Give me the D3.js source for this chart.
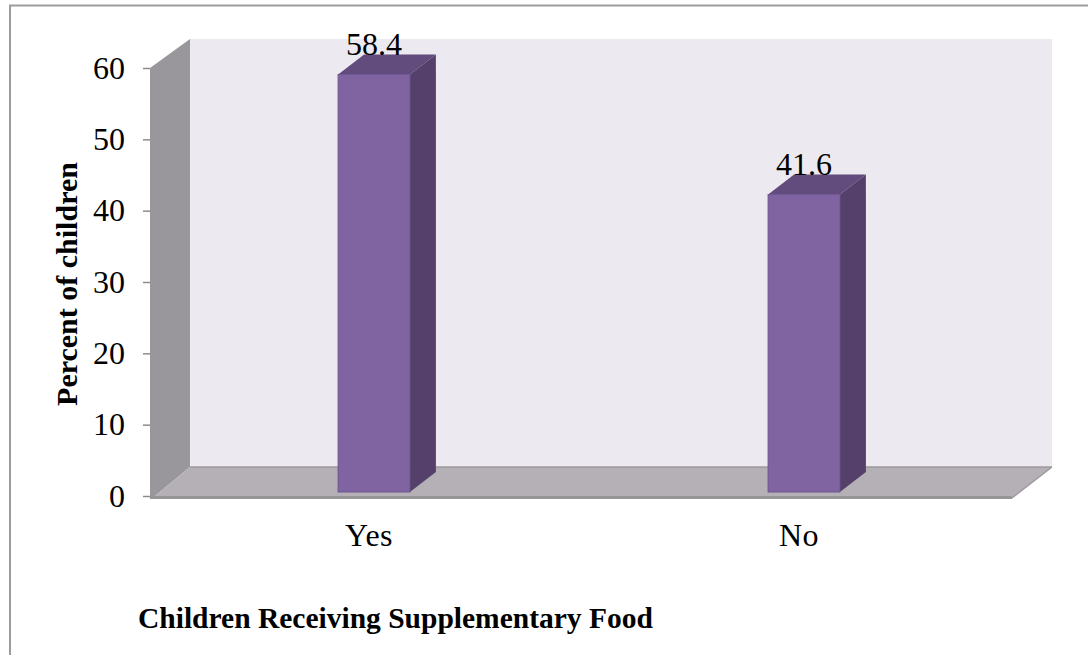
<!DOCTYPE html>
<html>
<head>
<meta charset="utf-8">
<script src="https://cdn.jsdelivr.net/npm/d3@7"></script>
<style>
  html, body { margin: 0; padding: 0; background: #fff; }
  svg { display: block; }
  text { font-family: "Liberation Serif", serif; fill: #000; }
</style>
</head>
<body>
<svg id="chart" width="1088" height="655"></svg>
<script>
const categories = ["Yes", "No"];
const percentValues = [58.4, 41.6];
const percentLabels = ["58.4", "41.6"];
const yTicks = [0, 10, 20, 30, 40, 50, 60];
const yTitle = "Percent of children";
const xTitle = "Children Receiving Supplementary Food";

//Draw the 3D column chart
function drawColumnChart(svgSelector) {
    const svg = d3.select(svgSelector);
    svg.selectAll("*").remove();

    const width = +svg.attr("width");
    const height = +svg.attr("height");

    // how far the back wall sits behind the front plane
    const wallDepth = { x: 40, y: -29 };
    const barDepth = { x: 26, y: -20 };
    const front = { left: 150, right: 1012, base: 496, top: 68 };
    const floorInset = 5;

    const x = d3.scaleBand()
        .domain(categories)
        .range([159, 1019])
        .paddingInner(0.833)
        .paddingOuter(0.4165);

    const y = d3.scaleLinear().domain([0, 60]).range([front.base, front.top]);

    // bars stand a little in front of the axis plane
    const yBar = d3.scaleLinear().domain([0, 60]).range([492, 63]);

    const poly = pts => pts.map(p => p.join(",")).join(" ");

    // Outer frame, only top and left are drawn
    svg.append("path")
        .attr("d", d3.line()([[10, height], [10, 5.5], [width, 5.5]]))
        .attr("fill", "none")
        .attr("stroke", "#9c9c9c")
        .attr("stroke-width", 2);

    const backLeft = front.left + wallDepth.x;
    const backRight = front.right + wallDepth.x;
    const backBase = front.base + wallDepth.y;
    const backTop = front.top + wallDepth.y;

    // Back wall
    svg.append("rect")
        .attr("x", backLeft)
        .attr("y", backTop)
        .attr("width", backRight - backLeft)
        .attr("height", backBase - backTop)
        .attr("fill", "#ece9f1");

    // Side wall
    svg.append("polygon")
        .attr("points", poly([
            [front.left, front.top], [backLeft, backTop],
            [backLeft, backBase], [front.left + floorInset, front.base], [front.left, front.base]
        ]))
        .attr("fill", "#99979c");

    // Floor
    svg.append("polygon")
        .attr("points", poly([
            [front.left + floorInset, front.base], [backLeft, backBase],
            [backRight, backBase], [front.right, front.base + 2]
        ]))
        .attr("fill", "#b5b0b5");

    svg.append("line")
        .attr("x1", backLeft)
        .attr("x2", backRight)
        .attr("y1", backBase)
        .attr("y2", backBase)
        .attr("stroke", "#9d9a9e")
        .attr("stroke-width", 1.5);

    svg.append("line")
        .attr("x1", backRight)
        .attr("x2", front.right)
        .attr("y1", backBase)
        .attr("y2", front.base + 2)
        .attr("stroke", "#9d9a9e")
        .attr("stroke-width", 1.5);

    svg.append("line")
        .attr("x1", front.left)
        .attr("x2", front.right)
        .attr("y1", front.base + 1.5)
        .attr("y2", front.base + 1.5)
        .attr("stroke", "#989599")
        .attr("stroke-width", 3);

    // Bars: top, side, then front face
    const bars = svg.selectAll("g.bar")
        .data(categories.map((c, i) => ({ cat: c, value: percentValues[i], label: percentLabels[i] })))
        .enter()
        .append("g")
        .attr("class", "bar");

    bars.append("polygon")
        .attr("points", d => {
            const l = x(d.cat), r = l + x.bandwidth(), t = yBar(d.value);
            return poly([[l, t], [l + barDepth.x, t + barDepth.y], [r + barDepth.x, t + barDepth.y], [r, t]]);
        })
        .attr("fill", "#624b7d");

    bars.append("polygon")
        .attr("points", d => {
            const r = x(d.cat) + x.bandwidth(), t = yBar(d.value), b = yBar(0);
            return poly([[r, t], [r + barDepth.x, t + barDepth.y], [r + barDepth.x, b + barDepth.y], [r, b]]);
        })
        .attr("fill", "#54406b");

    bars.append("rect")
        .attr("x", d => x(d.cat))
        .attr("y", d => yBar(d.value))
        .attr("width", x.bandwidth())
        .attr("height", d => yBar(0) - yBar(d.value))
        .attr("fill", "#8064a2")
        .attr("stroke", "#6f5590")
        .attr("stroke-width", 1);

    // Value labels
    bars.append("text")
        .attr("x", d => x(d.cat) + x.bandwidth() / 2)
        .attr("y", d => yBar(d.value) - 19.5)
        .attr("text-anchor", "middle")
        .style("font-size", "32px")
        .text(d => d.label);

    // Y axis
    const yAxis = svg.append("g")
        .attr("transform", `translate(${front.left},0)`)
        .call(d3.axisLeft(y).tickValues(yTicks).tickSize(7).tickPadding(18));
    yAxis.select(".domain").remove();
    yAxis.selectAll("line").attr("stroke", "#8c8c8c").attr("stroke-width", 1.5);
    yAxis.selectAll("text")
        .style("font-size", "32px")
        .style("font-family", "\"Liberation Serif\", serif");

    // Category labels
    svg.selectAll("text.cat")
        .data(categories)
        .enter()
        .append("text")
        .attr("class", "cat")
        .attr("x", d => x(d) + x.bandwidth() / 2 - 5)
        .attr("y", 546)
        .attr("text-anchor", "middle")
        .style("font-size", "32px")
        .style("letter-spacing", "0.5px")
        .text(d => d);

    // Axis titles
    svg.append("text")
        .attr("transform", "translate(77,284) rotate(-90)")
        .attr("text-anchor", "middle")
        .style("font-size", "30px")
        .style("font-weight", "bold")
        .text(yTitle);

    svg.append("text")
        .attr("x", 138)
        .attr("y", 628)
        .style("font-size", "29.5px")
        .style("font-weight", "bold")
        .text(xTitle);
}

drawColumnChart("#chart");
</script>
</body>
</html>
